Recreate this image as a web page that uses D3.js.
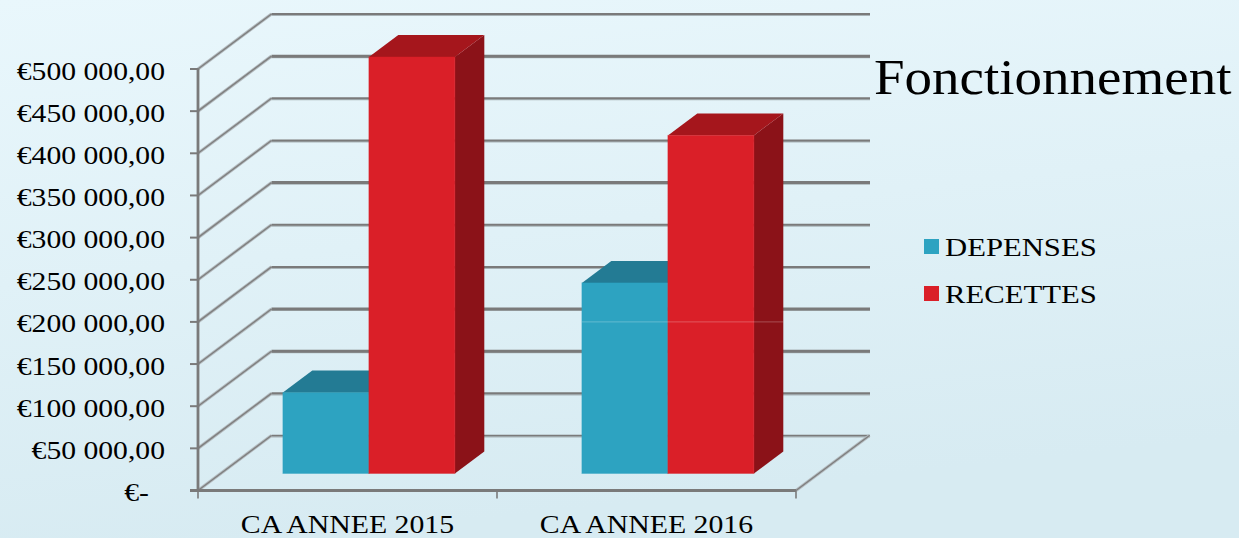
<!DOCTYPE html>
<html>
<head>
<meta charset="utf-8">
<script src="https://d3js.org/d3.v7.min.js"></script>
<style>
  html, body { margin: 0; padding: 0; background: #e0f1f7; }
  svg { display: block; }
  text { font-family: "Liberation Serif", serif; fill: #000; }
</style>
</head>
<body>
<svg id="chart" width="1239" height="538"></svg>
<script>
var categories = ["CA ANNEE 2015", "CA ANNEE 2016"];
var seriesNames = ["DEPENSES", "RECETTES"];
var depenses = [96000, 226000];
var recettes = [494000, 401000];
var tickValues = [0, 50000, 100000, 150000, 200000, 250000, 300000, 350000, 400000, 450000, 500000];
var tickLabels = ["€-", "€50 000,00", "€100 000,00", "€150 000,00", "€200 000,00", "€250 000,00",
    "€300 000,00", "€350 000,00", "€400 000,00", "€450 000,00", "€500 000,00"];
// resampling in the original makes some grid lines look heavier
var gridWidths = [1.6, 2, 3, 3, 2, 2, 3, 2, 2, 3, 2];

var colors = {
    DEPENSES: { front: "#2da3c1", top: "#237b94", side: "#1d6a80" },
    RECETTES: { front: "#da1f28", top: "#a5161c", side: "#8b1218" }
};

var width = 1239, height = 538;
var wallDx = 73.5, wallDy = 55;   // how far the back wall is shifted from the front edge
var barNear = 0.31, barFar = 0.71; // bar front and back, as a fraction of the floor depth

var svg = d3.select("#chart");

var defs = svg.append("defs");
var bg = defs.append("linearGradient").attr("id", "bg")
    .attr("x1", 0).attr("y1", 0).attr("x2", 0.25).attr("y2", 1);
bg.append("stop").attr("offset", 0).attr("stop-color", "#e9f7fc");
bg.append("stop").attr("offset", 1).attr("stop-color", "#d7ebf2");
svg.append("rect").attr("width", width).attr("height", height).attr("fill", "url(#bg)");

var y = d3.scaleLinear().domain([0, 500000]).range([490.5, 69]);
var x0 = d3.scaleBand().domain(categories).range([198, 796]);
var x1 = d3.scaleBand().domain(seriesNames).range([63.5, x0.bandwidth() - 63.5]);

function stretchText(sel, factor) {
    sel.each(function() {
        var len = this.getComputedTextLength();
        d3.select(this).attr("textLength", len * factor).attr("lengthAdjust", "spacingAndGlyphs");
    });
}

// grid lines: left wall slant + back wall
var grid = svg.append("g");
var line = d3.line();
tickValues.forEach(function(v, i) {
    var yy = y(v);
    var slant = [[198, yy], [198 + wallDx, yy - wallDy]];
    var back = [[198 + wallDx, yy - wallDy], [870, yy - wallDy]];
    grid.append("path").attr("d", line(back.map(function(p) { return [p[0], p[1] + 1.3]; })))
        .attr("fill", "none").attr("stroke", "#a9b4b8").attr("stroke-width", 1.5);
    grid.append("path").attr("d", line(slant))
        .attr("fill", "none").attr("stroke", "#b4bcc0").attr("stroke-width", 3.2);
    grid.append("path").attr("d", line(slant))
        .attr("fill", "none").attr("stroke", "#7f7f7f").attr("stroke-width", 1.4);
    grid.append("path").attr("d", line(back))
        .attr("fill", "none").attr("stroke", "#7a7a7a").attr("stroke-width", gridWidths[i]);
});

// floor right edge
var floorEdge = [[796, y(0)], [796 + wallDx, y(0) - wallDy]];
svg.append("path").attr("d", line(floorEdge))
    .attr("fill", "none").attr("stroke", "#b4bcc0").attr("stroke-width", 3.2);
svg.append("path").attr("d", line(floorEdge))
    .attr("fill", "none").attr("stroke", "#7f7f7f").attr("stroke-width", 1.4);

// axes
var axisG = svg.append("g");
axisG.append("line").attr("x1", 198).attr("x2", 198).attr("y1", y(500000)).attr("y2", y(0))
    .attr("stroke", "#7a7a7a").attr("stroke-width", 2.8);
axisG.append("line").attr("x1", 190).attr("x2", 796).attr("y1", y(0)).attr("y2", y(0))
    .attr("stroke", "#7a7a7a").attr("stroke-width", 2.8);
tickValues.forEach(function(v) {
    axisG.append("line").attr("x1", 190).attr("x2", 198).attr("y1", y(v)).attr("y2", y(v))
        .attr("stroke", "#7a7a7a").attr("stroke-width", 2);
});
categories.concat(["end"]).forEach(function(c, i) {
    var xx = i < categories.length ? x0(c) : x0.range()[1];
    axisG.append("line").attr("x1", xx).attr("x2", xx).attr("y1", y(0)).attr("y2", y(0) + 8)
        .attr("stroke", "#7a7a7a").attr("stroke-width", 1.6);
});

// bars
var barData = [];
categories.forEach(function(c, i) {
    barData.push({ cat: c, name: "DEPENSES", value: depenses[i] });
    barData.push({ cat: c, name: "RECETTES", value: recettes[i] });
});
var barBase = y(0) - wallDy * barNear;
var nearDx = 21.4, depthDx = wallDx * (barFar - barNear), depthDy = wallDy * (barFar - barNear);

var bars = svg.append("g").selectAll("g").data(barData).enter().append("g");
bars.each(function(d) {
    var g = d3.select(this);
    var left = x0(d.cat) + x1(d.name) + nearDx;
    var right = left + x1.bandwidth();
    var top = y(d.value) - wallDy * barNear;
    var c = colors[d.name];
    g.append("path")
        .attr("d", line([[right, top], [right + depthDx, top - depthDy], [right + depthDx, barBase - depthDy], [right, barBase]]) + "Z")
        .attr("fill", c.side);
    g.append("path")
        .attr("d", line([[left, top], [left + depthDx, top - depthDy], [right + depthDx, top - depthDy], [right, top]]) + "Z")
        .attr("fill", c.top);
    g.append("rect").attr("x", left).attr("y", top)
        .attr("width", x1.bandwidth()).attr("height", barBase - top).attr("fill", c.front)
        .attr("stroke", c.front).attr("stroke-opacity", 0.45).attr("stroke-width", 1);
});

// faint line left over across the 2016 bars in the source image
svg.append("line")
    .attr("x1", x0(categories[1]) + x1("DEPENSES") + nearDx)
    .attr("x2", x0(categories[1]) + x1("RECETTES") + x1.bandwidth() + nearDx + depthDx)
    .attr("y1", y(200000)).attr("y2", y(200000))
    .attr("stroke", "#ffffff").attr("stroke-opacity", 0.25).attr("stroke-width", 1);

// value labels
svg.append("g").selectAll("text").data(tickValues).enter().append("text")
    .attr("x", function(d, i) { return i === 0 ? 149 : 165; })
    .attr("y", function(d) { return y(d) + 10.5; })
    .attr("text-anchor", "end")
    .attr("font-size", 26)
    .text(function(d, i) { return tickLabels[i]; })
    .call(stretchText, 1.14);

// category labels
svg.append("g").selectAll("text").data(categories).enter().append("text")
    .attr("x", function(d) { return x0(d) + x0.bandwidth() / 2; })
    .attr("y", 532.5)
    .attr("text-anchor", "middle")
    .attr("font-size", 25)
    .text(function(d) { return d; })
    .call(stretchText, 1.19);

// legend
var legend = svg.append("g").selectAll("g").data(seriesNames).enter().append("g")
    .attr("transform", function(d, i) { return "translate(924," + (239 + i * 47) + ")"; });
legend.append("rect").attr("width", 15).attr("height", 15)
    .attr("fill", function(d) { return colors[d].front; });
legend.append("text").attr("x", 21).attr("y", 16.5).attr("font-size", 26)
    .text(function(d) { return d; })
    .call(stretchText, 1.18);

// title
svg.append("text").attr("x", 874).attr("y", 94).attr("font-size", 50)
    .text("Fonctionnement")
    .call(stretchText, 1.1);
</script>
</body>
</html>
